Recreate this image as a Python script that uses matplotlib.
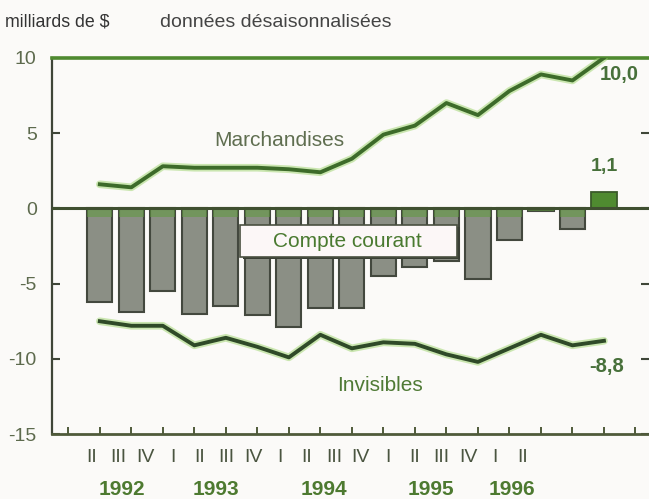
import numpy as np
import matplotlib
matplotlib.use("Agg")
import matplotlib.pyplot as plt
from matplotlib.patches import Rectangle

plt.rcParams['font.family'] = ['Liberation Sans', 'DejaVu Sans']
NARROW = ['Liberation Sans Narrow', 'Liberation Sans', 'DejaVu Sans']

# quarters II-1992 .. II-1996
quarters = ['II', 'III', 'IV', 'I', 'II', 'III', 'IV', 'I', 'II', 'III', 'IV',
            'I', 'II', 'III', 'IV', 'I', 'II']
years = ['1992', '1993', '1994', '1995', '1996']
year_groups = [(0, 2), (3, 6), (7, 10), (11, 14), (15, 16)]

compte_courant = [-6.2, -6.9, -5.5, -7.0, -6.5, -7.1, -7.9, -6.6, -6.6, -4.5,
                  -3.9, -3.5, -4.7, -2.1, -0.2, -1.4, 1.1]
marchandises = [1.6, 1.4, 2.8, 2.7, 2.7, 2.7, 2.6, 2.4, 3.3, 4.9, 5.5, 7.0,
                6.2, 7.8, 8.9, 8.5, 10.0]
invisibles = [-7.5, -7.8, -7.8, -9.1, -8.6, -9.2, -9.9, -8.4, -9.3, -8.9,
              -9.0, -9.7, -10.2, -9.3, -8.4, -9.1, -8.8]

x = np.arange(len(quarters))

fig = plt.figure(figsize=(6.49, 4.99), dpi=100)
fig.patch.set_facecolor('#fbfaf8')
ax = fig.add_axes([0.080, 0.130, 0.920, 0.754])
ax.set_facecolor('#fbfaf8')

# bars
cc = np.array(compte_courant)
neg = cc < 0
ax.bar(x[neg], cc[neg], width=0.8, color='#8b8f85', edgecolor='#43483e',
       linewidth=1.5, zorder=2)
ax.bar(x[neg], np.maximum(cc[neg], -0.6), width=0.8, color='#5e9a3c',
       alpha=0.55, linewidth=0, zorder=2.1)
ax.bar(x[~neg], cc[~neg], width=0.8, color='#4f8a30', edgecolor='#3b5a2a',
       linewidth=1.3, zorder=2)

# zero line
ax.axhline(0, color='#3f4f30', lw=2.2, zorder=3)

# lines
ax.plot(x, marchandises, color='#9bd36a', lw=5.5, alpha=0.5, zorder=4,
        solid_capstyle='round')
ax.plot(x, marchandises, color='#3d6b2a', lw=2.8, zorder=5,
        solid_joinstyle='round')
ax.plot(x, invisibles, color='#9bd36a', lw=5.5, alpha=0.5, zorder=4,
        solid_capstyle='round')
ax.plot(x, invisibles, color='#2f4a28', lw=2.8, zorder=5,
        solid_joinstyle='round')

# "Compte courant" box
ax.add_patch(Rectangle((4.54, -3.35), 6.9, 2.1, facecolor='#3a3f35',
                       edgecolor='none', zorder=6))
ax.add_patch(Rectangle((4.44, -3.2), 6.9, 2.1, facecolor='#fcf7f7',
                       edgecolor='#4a5040', lw=1.2, zorder=7))
ax.text(7.85, -2.2, 'Compte courant', ha='center', va='center', fontsize=15,
        color='#4a7a30', zorder=8)

# series labels
ax.text(5.7, 4.5, 'Marchandises', ha='center', va='center', fontsize=15,
        color='#5f6e50', zorder=8)
ax.text(16.5, 8.9, '10,0', ha='center', va='center', fontsize=14.5,
        fontweight='bold', color='#47703a', zorder=8)
ax.text(16.0, 2.8, '1,1', ha='center', va='center', fontsize=14,
        fontweight='bold', color='#47703a', zorder=8)
ax.text(8.9, -11.8, 'Invisibles', ha='center', va='center', fontsize=15,
        color='#4f7a35', zorder=8)
ax.text(16.1, -10.5, '-8,8', ha='center', va='center', fontsize=14.5,
        fontweight='bold', color='#47703a', zorder=8)

ax.set_xlim(-1.52, 17.43)
ax.set_ylim(-15, 10)

# spines
ax.spines['right'].set_visible(False)
ax.spines['top'].set_color('#4f8a30')
ax.spines['top'].set_linewidth(2.6)
ax.spines['left'].set_color('#3f4638')
ax.spines['left'].set_linewidth(1.6)
ax.spines['bottom'].set_color('#4f5a3a')
ax.spines['bottom'].set_linewidth(2.0)

ax.set_yticks([10, 5, 0, -5, -10, -15])
ax.set_yticklabels(['10', '5', '0', '-5', '-10', '-15'])
ax.tick_params(axis='y', direction='in', length=6, width=1.5,
               colors='#3f4638', labelcolor='#5d6a4d', labelsize=14,
               pad=11, right=True)
ax.set_xticks(np.arange(-1, 18))
ax.set_xticklabels([])
ax.tick_params(axis='x', direction='in', length=5, width=1.4,
               colors='#4f5a3a')

# quarter and year labels (printed slightly compressed relative to the bars)
q0, qstep = -0.254, 0.854
trans = ax.get_xaxis_transform()
for k, q in enumerate(quarters):
    ax.text(q0 + qstep * k, -0.061, q, transform=trans, ha='center',
            va='center', fontsize=14, color='#4a5540', family=NARROW)
for yr, (a, b) in zip(years, year_groups):
    ax.text(q0 + qstep * (a + b) / 2 + 0.1, -0.146, yr, transform=trans,
            ha='center', va='center', fontsize=15, fontweight='bold',
            color='#4d7a30', family=NARROW)

fig.text(0.008, 0.955, 'milliards de $', fontsize=12.8, color='#333333',
         va='center')
fig.text(0.247, 0.955, 'données désaisonnalisées', fontsize=14,
         color='#444444', va='center')

fig.savefig('out.png', dpi=100, facecolor=fig.get_facecolor())
